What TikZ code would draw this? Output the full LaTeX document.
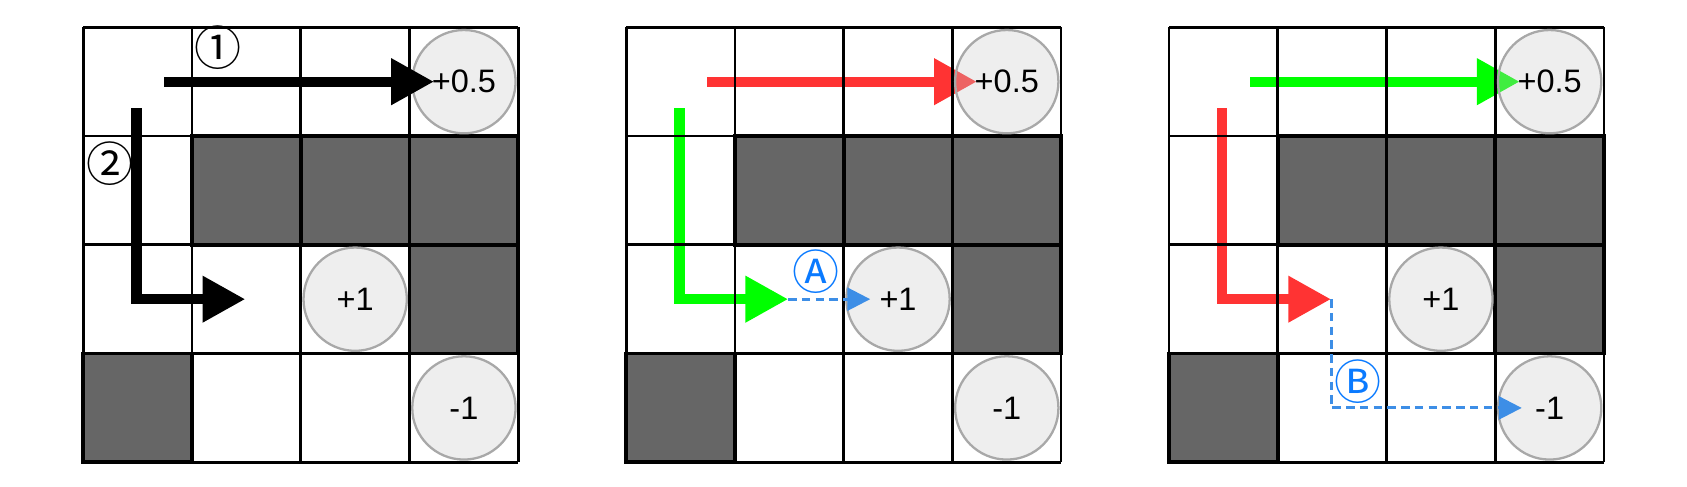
\documentclass[tikz,border=0pt]{standalone}
\usepackage{fontspec}
\setmainfont{Liberation Sans}
\newfontfamily\circfont{Noto Sans CJK JP}
\usepackage{tikz}
\usetikzlibrary{
  positioning,
  arrows.meta
}
\definecolor{wallgray}{HTML}{666666}
\definecolor{ringgray}{HTML}{A8A8A8}
\definecolor{discgray}{RGB}{202,202,202}
\definecolor{pathred}{HTML}{FF3333}
\definecolor{pathgreen}{HTML}{00FF00}
\definecolor{probeblue}{HTML}{3D8EE6}
\definecolor{tagblue}{HTML}{0A7AFF}
\tikzset{
  >=Latex,
  cellline/.style={draw=black,line width=0.7pt},
  wall/.style={fill=wallgray,draw=black,line width=1pt},
  reward/.style={circle,draw=ringgray,line width=0.6pt,fill=discgray,fill opacity=0.32,text opacity=1,minimum size=9.5mm,inner sep=0pt,font=\fontsize{8.5}{10}\selectfont},
  walk/.style={line width=2.7pt,line join=miter,-{Triangle[length=11.2pt,width=11.5pt]}},
  probe/.style={draw=probeblue,line width=0.75pt,dash pattern=on 2.2pt off 1.4pt,-{Triangle[length=6pt,width=6pt]}},
  circtag/.style={inner sep=0pt,font=\circfont\fontsize{12.3}{12.3}\selectfont}
}

\begin{document}
\begin{tikzpicture}
    \useasboundingbox (0,0) rectangle (15.513,4.478);

    % points the paths run through, one set per grid
    \foreach \p/\sx in {1/0.766,2/5.758,3/10.750}{
      \begin{scope}[shift={(\sx,0.227)}]
        \coordinate (p\p-top)  at (0.745,3.5);
        \coordinate (p\p-goal) at (3.225,3.5);
        \coordinate (p\p-down) at (0.49,3.255);
        \coordinate (p\p-stop) at (1.49,1.5);
      \end{scope}
    }
    \begin{scope}[shift={(5.758,0.227)}]
      \coordinate (p2-near) at (2.244,1.5);
    \end{scope}
    \begin{scope}[shift={(10.750,0.227)}]
      \coordinate (p3-far) at (3.243,0.5);
    \end{scope}

    % coloured paths lie under the grid
    \draw[walk,draw=pathred] (p2-top) -- (p2-goal);
    \draw[walk,draw=pathgreen] (p2-down) |- (p2-stop);
    \draw[walk,draw=pathgreen] (p3-top) -- (p3-goal);
    \draw[walk,draw=pathred] (p3-down) |- (p3-stop);

    % the three grids
    \foreach \p/\sx in {1/0.766,2/5.758,3/10.750}{
      \begin{scope}[shift={(\sx,0.227)}]
        \draw[cellline] (0,0) grid (4,4);
        \foreach \c/\r in {1/2,2/2,3/2,3/1,0/0}
          \draw[wall] (\c,\r) rectangle ++(1,1);
        \node[reward] (p\p-half) at (3.5,3.5) {+0.5};
        \node[reward] (p\p-one)  at (2.5,1.5) {+1};
        \node[reward] (p\p-neg)  at (3.5,0.5) {-1};
      \end{scope}
    }

    % first grid: black paths on top
    \draw[walk] (p1-top) -- (p1-goal);
    \draw[walk] (p1-down) |- (p1-stop);

    % dashed look-ahead steps
    \draw[probe] (p2-stop) -- (p2-near);
    \draw[probe] (p3-stop) |- (p3-far);

    \begin{scope}[shift={(0.766,0.227)}]
      \node[circtag] (tag1) at (1.239,3.81) {①};
      \node[circtag] (tag2) at (0.241,2.743) {②};
    \end{scope}
    \node[circtag,text=tagblue] (tagA) at (7.502,1.980) {Ⓐ};
    \node[circtag,text=tagblue] (tagB) at (12.491,0.968) {Ⓑ};
\end{tikzpicture}
\end{document}
